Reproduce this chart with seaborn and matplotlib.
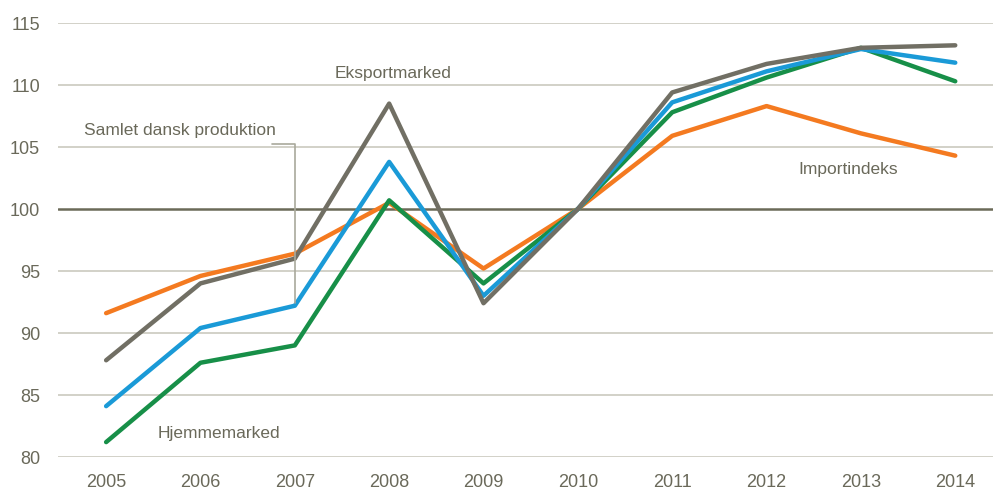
"""
Index 2010=100: dansk produktion, hjemme-, eksportmarked og importindeks.
"""

import matplotlib
matplotlib.use("Agg")
import matplotlib.pyplot as plt
import pandas as pd
import seaborn as sns

years = [2005, 2006, 2007, 2008, 2009, 2010, 2011, 2012, 2013, 2014]
eksportmarked = [87.8, 94.0, 96.0, 108.5, 92.4, 100.0, 109.4, 111.7, 113.0, 113.2]
samlet = [84.1, 90.4, 92.2, 103.8, 93.0, 100.0, 108.6, 111.1, 112.9, 111.8]
hjemmemarked = [81.2, 87.6, 89.0, 100.7, 94.0, 100.0, 107.8, 110.6, 113.0, 110.3]
importindeks = [91.6, 94.6, 96.4, 100.5, 95.2, 100.0, 105.9, 108.3, 106.1, 104.3]

series_names = ["Importindeks", "Hjemmemarked", "Samlet dansk produktion", "Eksportmarked"]
series_values = [importindeks, hjemmemarked, samlet, eksportmarked]
colors = {
    "Eksportmarked": "#716f64",
    "Samlet dansk produktion": "#1a9ad7",
    "Hjemmemarked": "#178f48",
    "Importindeks": "#f47a20",
}
yticks = [80, 85, 90, 95, 100, 105, 110, 115]

TEXT = "#6a695a"


def main():
    df = pd.DataFrame(
        [(y, name, v) for name, vals in zip(series_names, series_values)
         for y, v in zip(years, vals)],
        columns=["year", "serie", "value"],
    )

    sns.set_style("white")
    plt.rcParams["font.family"] = ["Liberation Sans Narrow", "Liberation Sans", "DejaVu Sans"]

    fig = plt.figure(figsize=(9.93, 4.91), dpi=100)
    ax = fig.add_axes([58 / 993, 34 / 491, 935 / 993, 434 / 491])

    for y in yticks:
        if y != 100:
            ax.axhline(y, color="#cbcabf", lw=1.2, zorder=0)
    ax.axhline(100, color="#6b6a58", lw=1.8, zorder=1)

    sns.lineplot(
        data=df, x="year", y="value", hue="serie", hue_order=series_names,
        palette=colors, linewidth=3.2, legend=False, ax=ax,
        solid_capstyle="round",
    )

    ax.set_xlim(2004.49, 2014.4)
    ax.set_ylim(80, 115)
    ax.set_xticks(years)
    ax.set_yticks(yticks)
    ax.set_xlabel("")
    ax.set_ylabel("")
    ax.tick_params(axis="both", length=0, labelsize=13, labelcolor=TEXT)
    ax.tick_params(axis="y", pad=13)
    ax.tick_params(axis="x", pad=12)
    for s in ax.spines.values():
        s.set_visible(False)

    # labels
    ax.text(2008.04, 110.9, "Eksportmarked", ha="center", va="center", fontsize=12.5, color=TEXT)
    ax.text(2006.2, 81.9, "Hjemmemarked", ha="center", va="center", fontsize=12.5, color=TEXT)
    ax.text(2012.86, 103.2, "Importindeks", ha="center", va="center", fontsize=12.5, color=TEXT)
    ax.text(2005.78, 106.3, "Samlet dansk produktion", ha="center", va="center",
            fontsize=12.5, color=TEXT)
    ax.plot([2006.76, 2007.0, 2007.0], [105.25, 105.25, 92.4],
            color="#a9a99c", lw=1.2, zorder=2)

    fig.savefig("out.png", dpi=100)
    plt.close(fig)


if __name__ == "__main__":
    main()
